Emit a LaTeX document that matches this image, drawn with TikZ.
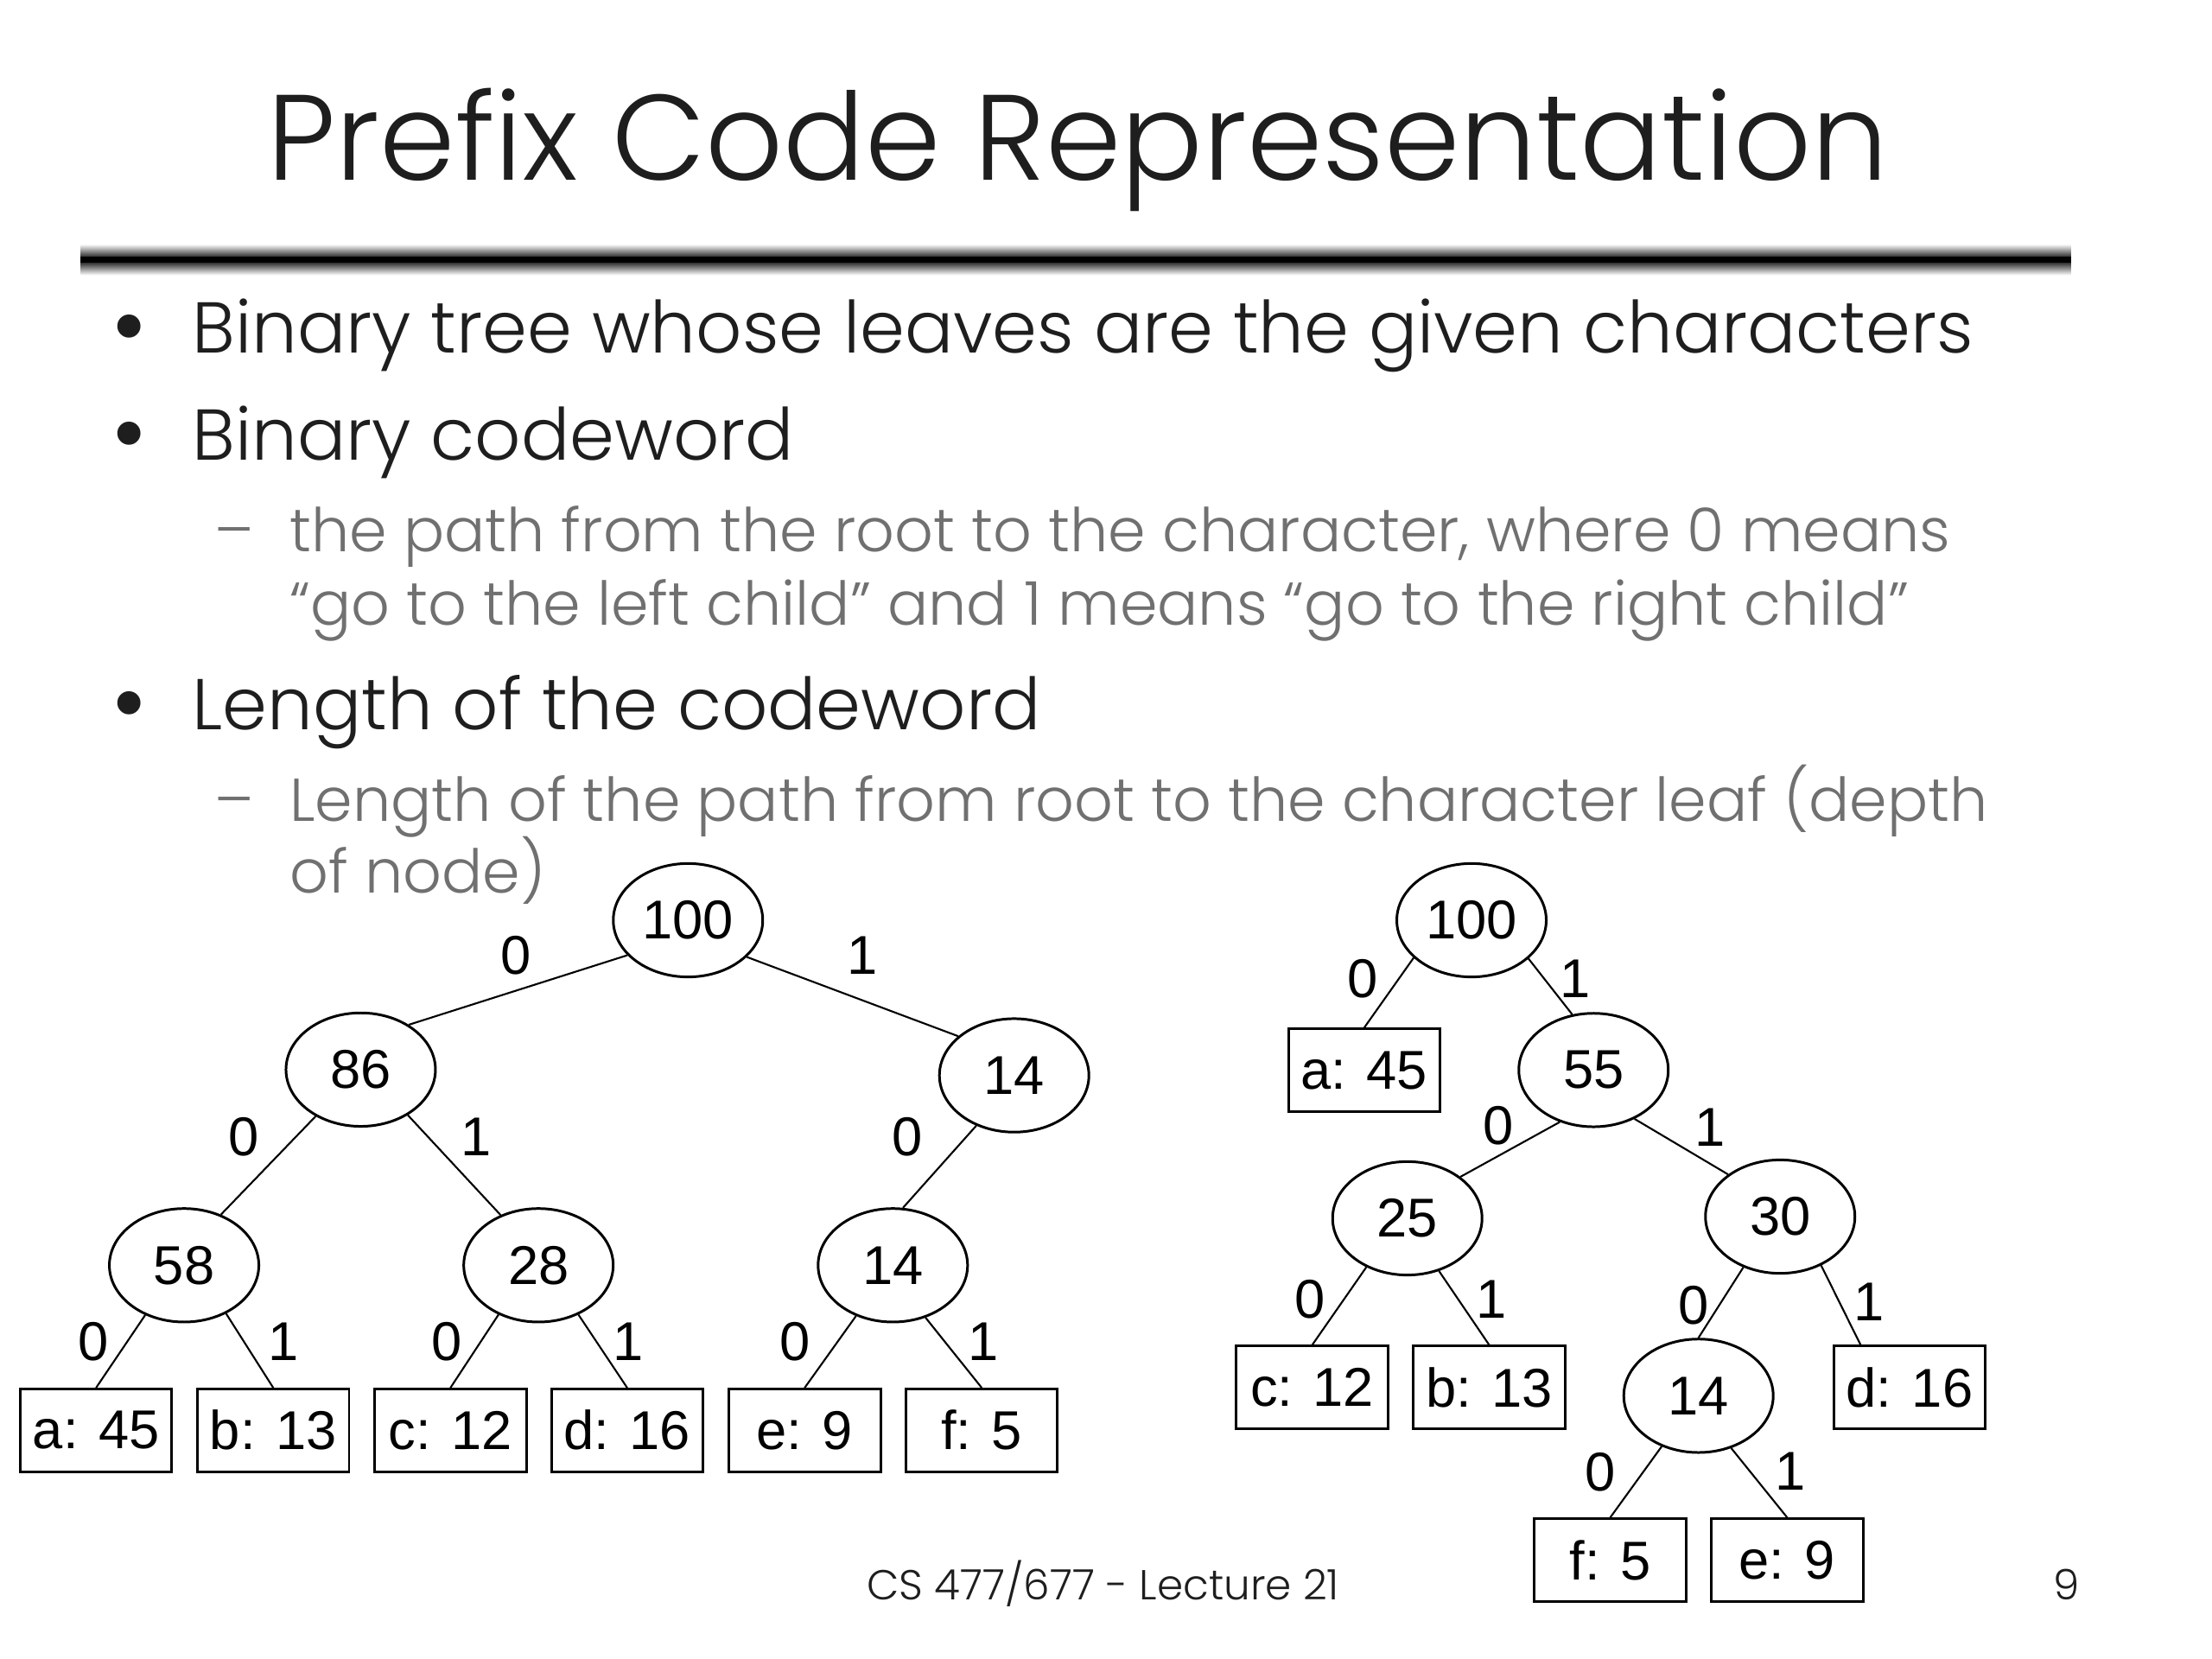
\documentclass[tikz,border=0pt]{standalone}
\usepackage{fontspec}
\setmainfont{Poppins Light}
\newfontfamily\treefont{Liberation Sans}
\usetikzlibrary{shapes.geometric}
\definecolor{subgray}{HTML}{707070}
\definecolor{ink}{HTML}{1E1E1E}
\begin{document}
\begin{tikzpicture}[x=0.016327cm, y=-0.016327cm,
  sum/.style={ellipse, draw, line width=0.85pt, minimum width=1.73cm, minimum height=1.313cm,
    inner sep=0pt, font=\treefont\fontsize{18}{18}\selectfont},
  leaf/.style={rectangle, draw, line width=0.85pt, minimum width=1.755cm, minimum height=0.955cm,
    inner sep=0pt, font=\treefont\fontsize{18}{18}\selectfont},
  bit/.style={inner sep=0pt, font=\treefont\fontsize{18}{18}\selectfont},
  edge/.style={line width=0.6pt}]
  \tikzset{big/.style={inner sep=0pt, anchor=base west, text=ink, font=\fontsize{23.7}{23.7}\selectfont}}
  \tikzset{dot/.style={inner sep=0pt, anchor=base, text=ink, font=\fontsize{33}{33}\selectfont}}
  \tikzset{small/.style={inner sep=0pt, anchor=base west, text=subgray, font=\fontsize{19.9}{19.9}\selectfont}}
  \tikzset{foot/.style={inner sep=0pt, anchor=base, text=ink, font=\fontsize{13.8}{13.8}\selectfont}}
  \useasboundingbox (0,0) rectangle (1568,1176);
  \fill[white] (0,0) rectangle (1568,1176);
  % title and rule
  \node[inner sep=0pt, anchor=base, text=ink, font=\fontsize{40}{40}\selectfont] (title) at (764,128) {Prefix Code Representation};
  \shade[top color=white, bottom color=black] (57,173) rectangle (1468,184);
  \shade[top color=black, bottom color=white] (57,184) rectangle (1468,195);
  \draw[line width=1.8pt] (57,184) -- (1468,184);
  % bullets
  \node[dot] (d1) at (92,255) {•};
  \node[big] (b1) at (136,250) {Binary tree whose leaves are the given characters};
  \node[dot] (d2) at (92,331) {•};
  \node[big] (b2) at (136,326) {Binary codeword};
  \node[small, anchor=base] (s1) at (166,391) {–};
  \node[small] (b2a) at (205,391) {the path from the root to the character, where 0 means};
  \node[small] (b2b) at (205,443) {“go to the left child” and 1 means “go to the right child”};
  \node[dot] (d3) at (92,522) {•};
  \node[big] (b3) at (136,517) {Length of the codeword};
  \node[small, anchor=base] (s2) at (166,582) {–};
  \node[small] (b3a) at (205,582) {Length of the path from root to the character leaf (depth};
  \node[small] (b3b) at (205,633) {of node)};
  % left tree: nodes
  \node[sum] (t1r) at (487.7,652.3) {100};
  \node[sum] (t1n86) at (255.7,758.2) {86};
  \node[sum] (t1n14) at (718.9,762.3) {14};
  \node[sum] (t1n58) at (130.5,896.9) {58};
  \node[sum] (t1n28) at (381.7,896.9) {28};
  \node[sum] (t1m14) at (632.9,896.9) {14};
  \node[leaf] (t1a) at (68.1,1013.9) {a: 45};
  \node[leaf] (t1b) at (193.7,1013.9) {b: 13};
  \node[leaf] (t1c) at (319.3,1013.9) {c: 12};
  \node[leaf] (t1d) at (444.6,1013.9) {d: 16};
  \node[leaf] (t1e) at (570.4,1013.9) {e: 9};
  \node[leaf] (t1f) at (695.9,1013.9) {f: 5};
  % left tree: edges
  \draw[edge] (t1r.210) -- (t1n86.43);
  \draw[edge] (t1r.328) -- (t1n14.145);
  \draw[edge] (t1n86.226) -- (t1n58.54);
  \draw[edge] (t1n86.316) -- (t1n28.127);
  \draw[edge] (t1n14.233) -- (t1m14.80);
  \draw[edge] (t1n58.232) -- (t1a.north);
  \draw[edge] (t1n58.311) -- (t1b.north);
  \draw[edge] (t1n28.231) -- (t1c.north);
  \draw[edge] (t1n28.309) -- (t1d.north);
  \draw[edge] (t1m14.234) -- (t1e.north);
  \draw[edge] (t1m14.302) -- (t1f.north);
  % left tree: bits
  \node[bit] (t1l1) at (366,677.5) {0};
  \node[bit] (t1l2) at (611.6,677) {1};
  \node[bit] (t1l3) at (173,806) {0};
  \node[bit] (t1l4) at (337.5,806) {1};
  \node[bit] (t1l5) at (643,806) {0};
  \node[bit] (t1l6) at (66,951) {0};
  \node[bit] (t1l7) at (201,951) {1};
  \node[bit] (t1l8) at (317,951) {0};
  \node[bit] (t1l9) at (445.6,951) {1};
  \node[bit] (t1l10) at (563.5,951) {0};
  \node[bit] (t1l11) at (697.3,951) {1};
  % right tree: nodes
  \node[sum] (t2r) at (1043.1,652.3) {100};
  \node[leaf] (t2a) at (967,758.7) {a: 45};
  \node[sum] (t2n55) at (1129.6,758.5) {55};
  \node[sum] (t2n25) at (997.6,863.6) {25};
  \node[sum] (t2n30) at (1261.9,862.4) {30};
  \node[leaf] (t2c) at (930.2,983.5) {c: 12};
  \node[leaf] (t2b) at (1055.6,983.5) {b: 13};
  \node[sum] (t2n14) at (1204,989.4) {14};
  \node[leaf] (t2d) at (1353.6,983.5) {d: 16};
  \node[leaf] (t2f) at (1141.4,1105.9) {f: 5};
  \node[leaf] (t2e) at (1266.9,1105.9) {e: 9};
  % right tree: edges
  \draw[edge] (t2r.213) -- (t2a.north);
  \draw[edge] (t2r.326) -- (t2n55.111);
  \draw[edge] (t2n55.237) -- (t2n25.38);
  \draw[edge] (t2n55.310) -- (t2n30.141);
  \draw[edge] (t2n25.230) -- (t2c.north);
  \draw[edge] (t2n25.301) -- (t2b.north);
  \draw[edge] (t2n30.234) -- (t2n14.north);
  \draw[edge] (t2n30.310) -- (t2d.139);
  \draw[edge] (t2n14.234) -- (t2f.north);
  \draw[edge] (t2n14.302) -- (t2e.north);
  % right tree: bits
  \node[bit] (t2l1) at (966,694) {0};
  \node[bit] (t2l2) at (1116.5,694) {1};
  \node[bit] (t2l3) at (1062,798) {0};
  \node[bit] (t2l4) at (1212,799) {1};
  \node[bit] (t2l5) at (928.5,921) {0};
  \node[bit] (t2l6) at (1057,921) {1};
  \node[bit] (t2l7) at (1200.5,925) {0};
  \node[bit] (t2l8) at (1325,923) {1};
  \node[bit] (t2l9) at (1134.6,1043.6) {0};
  \node[bit] (t2l10) at (1269.4,1043) {1};
  % footer
  \node[foot] (lect) at (782,1134) {CS 477/677 - Lecture 21};
  \node[foot] (page) at (1465,1134) {9};
\end{tikzpicture}
\end{document}
